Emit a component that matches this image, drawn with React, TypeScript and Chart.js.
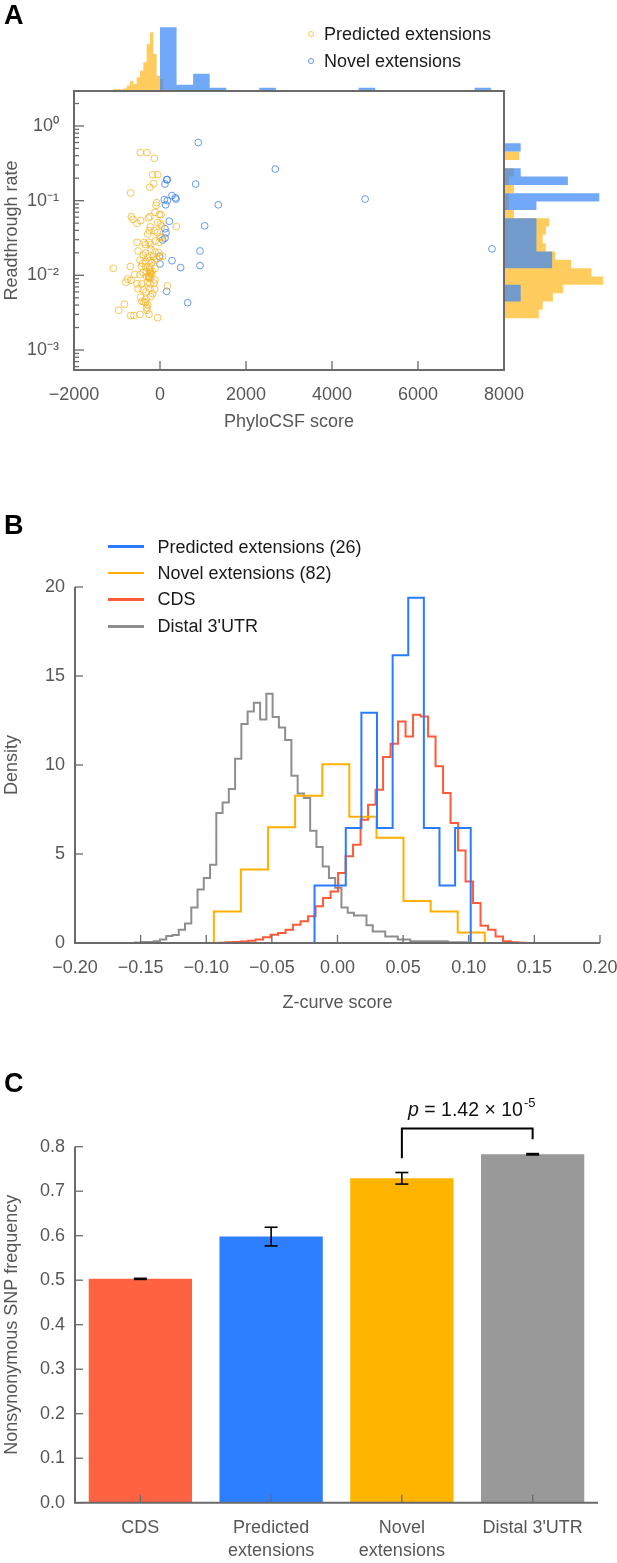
import React, { useEffect, useRef } from "react";
import { Chart, registerables } from "chart.js";

Chart.register(...registerables);

// ================= Panel A data =================
// scatter: PhyloCSF score vs readthrough rate
const PREDICTED_PHYLOCSF = [
  -457, -302, -132, -171, -54, -147, -240, -682, -78, -93, -667, -628, -535, -450, -271, -233, -116, -16, 23, -54,
  8, 39, 380, -225, -248, -132, -62, -287, 0, 31, -535, -372, -256, -109, -341, -217, -23, -512, -341, -209,
  -116, -31, 62, 0, -388, -287, -155, -465, -403, -326, -233, -194, -132, -70, -1085, -690, -434, -333, -233, -116,
  -310, -186, -395, -217, -264, -194, -589, -465, -310, -233, -116, -752, -791, -674, -535, -426, -287, -233, -140, 171,
  -512, -388, -233, -124, -326, -171, -450, -326, -217, -419, -333, -287, -372, -310, -302, -829, -961, -682, -605, -465,
  -256, -54, -250, -240, -260, -225, -245,
];
const PREDICTED_RATE = [
  0.44, 0.44, 0.37, 0.223, 0.223, 0.169, 0.151, 0.127, 0.094, 0.0866, 0.061, 0.056, 0.0497, 0.054, 0.0586, 0.061, 0.0698, 0.065, 0.065, 0.0507,
  0.0487, 0.0458, 0.0449, 0.0445, 0.0397, 0.0397, 0.0373, 0.0358, 0.033, 0.0319, 0.0277, 0.0275, 0.0277, 0.0288, 0.0258, 0.0256, 0.0277, 0.0212, 0.0199, 0.0223,
  0.0205, 0.0201, 0.018, 0.0178, 0.0187, 0.0176, 0.0178, 0.0159, 0.0145, 0.0152, 0.0159, 0.0148, 0.016, 0.0166, 0.0124, 0.0131, 0.0131, 0.0131, 0.0127, 0.0123,
  0.0112, 0.0114, 0.0109, 0.0106, 0.0096, 0.0102, 0.0103, 0.0102, 0.0096, 0.0091, 0.0087, 0.0089, 0.0081, 0.0086, 0.0077, 0.0077, 0.0081, 0.0077, 0.0079, 0.0072,
  0.0066, 0.0064, 0.0066, 0.0065, 0.006, 0.0057, 0.0051, 0.0048, 0.0052, 0.0045, 0.0043, 0.004, 0.0044, 0.0037, 0.0034, 0.0041, 0.0034, 0.0029, 0.0029, 0.003,
  0.003, 0.0027, 0.0098, 0.0104, 0.0093, 0.011, 0.012,
];
const NOVEL_PHYLOCSF = [
  891, 2682, 155, 171, 116, 829, 101, 171, 132, 279, 357, 372, 1356, 217, 1039, 116, 140, 116, 62, 930,
  -16, 279, 0, 480, 930, 155, 643, 4770, 7720,
];
const NOVEL_RATE = [
  0.6, 0.265, 0.191, 0.191, 0.167, 0.167, 0.103, 0.1, 0.088, 0.117, 0.109, 0.105, 0.088, 0.053, 0.046, 0.042, 0.037, 0.0316, 0.0297, 0.0212,
  0.018, 0.0157, 0.0142, 0.0127, 0.0135, 0.0061, 0.0043, 0.105, 0.0226,
];

// marginal histogram on top (PhyloCSF score)
const TOP_PRED_BIN_START = -1085;
const TOP_PRED_BIN_WIDTH = 77.5;
const TOP_PRED_FREQ = [0.27, 0.27, 0.14, 0.4, 1.22, 2.45, 1.63, 3.45, 5.24, 7.5, 12.5, 15.7, 9.8, 3.9, 3.0];
const TOP_NOVEL_BIN_START = 0;
const TOP_NOVEL_BIN_WIDTH = 385;
const TOP_NOVEL_FREQ = [17, 1.45, 4.4, 0.63, 0, 0, 0.63, 0, 0, 0, 0, 0, 0.63, 0, 0, 0, 0, 0, 0, 0.63];

// marginal histogram on the right (readthrough rate, log10 bins from top)
const SIDE_BIN_TOP_LOG10 = -0.2316;
const SIDE_BIN_WIDTH_LOG10 = 0.1115;
const SIDE_PRED_FREQ = [0, 0.9, 0, 0.57, 0.25, 0.57, 0.25, 0.25, 0.57, 2.8, 2.6, 2.4, 2.6, 3.2, 4.2, 5.5, 6.25, 3.7, 3.05, 2.4, 2.15];
const SIDE_NOVEL_FREQ = [1, 0, 0, 1, 4, 0, 6, 2, 0, 2, 2, 2, 2, 3, 3, 0, 0, 1, 1, 0, 0];

const A_X_MIN = -2000;
const A_X_MAX = 8000;
const A_X_STEP = 2000;
const A_Y_MIN = 5.4e-4;
const A_Y_MAX = 2.94;
const LOG_DECADES = [-4, -3, -2, -1, 0];
const LOG_MULTIPLES = [1, 2, 3, 4, 5, 6, 7, 8, 9];

// ================= Panel B data =================
const B_PRED_EDGES = [-0.0175, -0.0056, 0.0063, 0.0182, 0.0301, 0.042, 0.0539, 0.0658, 0.0777, 0.0896, 0.1015];
const B_PRED_DENSITY = [3.23, 3.23, 6.46, 12.93, 6.46, 16.16, 19.39, 6.46, 3.23, 6.46];
const B_NOVEL_EDGES = [-0.0942, -0.0736, -0.0529, -0.0323, -0.0116, 0.009, 0.0297, 0.0503, 0.071, 0.0916, 0.1122];
const B_NOVEL_DENSITY = [1.77, 4.13, 6.5, 8.27, 10.04, 7.09, 5.91, 2.36, 1.77, 0.59];
const B_CDS_BIN_START = -0.091;
const B_CDS_BIN_WIDTH = 0.005714;
const B_CDS_DENSITY = [
  0.02, 0.04, 0.06, 0.09, 0.13, 0.19, 0.32, 0.47, 0.56, 0.75, 1.03, 1.22, 1.5, 2.06, 2.53, 2.9, 3.93, 4.87, 5.52, 6.93,
  7.77, 8.61, 10.45, 11.2, 12.45, 11.6, 12.83, 12.73, 11.6, 9.93, 8.43, 6.74, 5.2, 3.46, 2.25, 0.97, 0.75, 0.37, 0.1, 0.04, 0.02,
];
const B_UTR_BIN_START = -0.1543;
const B_UTR_BIN_WIDTH = 0.004767;
const B_UTR_DENSITY = [
  0.03, 0.05, 0.05, 0.1, 0.2, 0.4, 0.45, 0.75, 1.1, 2.0, 3.0, 3.65, 4.4, 7.3, 7.9, 8.65, 10.35, 12.3, 13.0, 13.5,
  12.55, 14.0, 12.7, 12.1, 11.4, 9.4, 8.4, 8.15, 6.3, 5.4, 4.3, 3.65, 3.1, 2.0, 1.7, 1.55, 1.55, 1.0, 0.65, 0.65,
  0.37, 0.37, 0.19, 0.19, 0.1, 0.1, 0.1, 0.1, 0.1, 0.1, 0.04, 0.04, 0.04,
];
const B_LEGEND = ["Predicted extensions (26)", "Novel extensions (82)", "CDS", "Distal 3'UTR"];

// ================= Panel C data =================
const C_CATEGORIES = [["CDS"], ["Predicted", "extensions"], ["Novel", "extensions"], ["Distal 3'UTR"]];
const C_FREQ = [0.503, 0.598, 0.729, 0.783];
const C_ERR = [0.0012, 0.021, 0.013, 0.0015];
const C_P_TEXT = ["p", " = 1.42 \u00d7 10", "-5"];

// ================= styles =================
const FONT = "'Liberation Sans', Arial, Helvetica, sans-serif";
const TEXT_GREY = "#575757";
const AXIS_LINE = "#6a6a6a";
const PT_YELLOW = "rgba(245,182,40,0.78)";
const PT_BLUE = "rgba(60,130,235,0.8)";
const HIST_YELLOW = "rgba(255,185,30,0.72)";
const HIST_BLUE = "rgba(60,135,245,0.72)";
const B_COLORS = ["#2b7bff", "#ffb000", "#ff5a3a", "#8e8e8e"];
const C_COLORS = ["#ff6240", "#2d7fff", "#ffb400", "#999999"];

const tickFont = { family: FONT, size: 18 };

const SUP: Record<string, string> = {
  "-": "\u207b", "0": "\u2070", "1": "\u00b9", "2": "\u00b2", "3": "\u00b3", "4": "\u2074",
  "5": "\u2075", "6": "\u2076", "7": "\u2077", "8": "\u2078", "9": "\u2079",
};

function isDecade(v: number) {
  const l = Math.log10(v);
  return Math.abs(l - Math.round(l)) < 1e-6;
}
function decadeLabel(v: number) {
  if (!isDecade(v)) return "";
  const e = Math.round(Math.log10(v));
  return "10" + String(e).split("").map((c) => SUP[c]).join("");
}
function minusFmt(v: number, digits: number) {
  if (Math.abs(v) < 1e-9) return (0).toFixed(digits);
  return v < 0 ? "\u2212" + Math.abs(v).toFixed(digits) : v.toFixed(digits);
}
function edgesFrom(start: number, width: number, n: number) {
  const out: number[] = [];
  for (let i = 0; i <= n; i++) out.push(start + i * width);
  return out;
}
function vOutline(edges: number[], vals: number[]) {
  const pts = [{ x: edges[0], y: 0 }];
  vals.forEach((v, i) => {
    pts.push({ x: edges[i], y: v });
    pts.push({ x: edges[i + 1], y: v });
  });
  pts.push({ x: edges[edges.length - 1], y: 0 });
  return pts;
}
function hOutline(edges: number[], vals: number[]) {
  const pts = [{ x: 0, y: edges[0] }];
  vals.forEach((v, i) => {
    pts.push({ x: v, y: edges[i] });
    pts.push({ x: v, y: edges[i + 1] });
  });
  pts.push({ x: 0, y: edges[edges.length - 1] });
  return pts;
}
function line(ctx: CanvasRenderingContext2D, x1: number, y1: number, x2: number, y2: number) {
  ctx.beginPath();
  ctx.moveTo(x1, y1);
  ctx.lineTo(x2, y2);
  ctx.stroke();
}
// fix an axis box size and drop the label-overflow padding so the plot area is exact
function fixBox(dim: "width" | "height", size: number) {
  return (s: any) => {
    s[dim] = size;
    s.paddingTop = 0;
    s.paddingBottom = 0;
    s.paddingLeft = 0;
    s.paddingRight = 0;
  };
}

const baseOptions = {
  responsive: false,
  maintainAspectRatio: false,
  animation: false as const,
  events: [] as any[],
  plugins: { legend: { display: false }, tooltip: { enabled: false } },
};

// ---------- Panel A: scatter ----------
function buildScatter(): any {
  const logTicks: number[] = [];
  LOG_DECADES.forEach((e) =>
    LOG_MULTIPLES.forEach((m) => {
      const v = m * Math.pow(10, e);
      if (v >= A_Y_MIN && v <= A_Y_MAX) logTicks.push(v);
    })
  );
  const frame = {
    id: "frameA",
    afterDraw(chart: any) {
      const { ctx, chartArea: a } = chart;
      const x = chart.scales.x;
      const y = chart.scales.y;
      ctx.save();
      ctx.strokeStyle = AXIS_LINE;
      ctx.lineWidth = 1.3;
      x.ticks.forEach((t: any) => {
        const p = x.getPixelForValue(t.value);
        line(ctx, p, a.bottom, p, a.bottom - 9);
      });
      y.ticks.forEach((t: any) => {
        const p = y.getPixelForValue(t.value);
        line(ctx, a.left, p, a.left + (isDecade(t.value) ? 10 : 5), p);
      });
      ctx.lineWidth = 2;
      ctx.strokeRect(a.left, a.top, a.right - a.left, a.bottom - a.top);
      ctx.restore();
    },
  };
  return {
    type: "scatter",
    data: {
      datasets: [
        {
          label: "Predicted extensions",
          data: PREDICTED_PHYLOCSF.map((x, i) => ({ x, y: PREDICTED_RATE[i] })),
          pointRadius: 3.4,
          pointBorderWidth: 1,
          pointBorderColor: PT_YELLOW,
          pointBackgroundColor: "rgba(0,0,0,0)",
        },
        {
          label: "Novel extensions",
          data: NOVEL_PHYLOCSF.map((x, i) => ({ x, y: NOVEL_RATE[i] })),
          pointRadius: 3.4,
          pointBorderWidth: 1,
          pointBorderColor: PT_BLUE,
          pointBackgroundColor: "rgba(0,0,0,0)",
        },
      ],
    },
    options: {
      ...baseOptions,
      layout: { padding: { top: 11, right: 113, left: 0, bottom: 0 } },
      scales: {
        x: {
          type: "linear",
          min: A_X_MIN,
          max: A_X_MAX,
          afterFit: fixBox("height", 80),
          grid: { display: false, drawTicks: false },
          border: { display: false },
          ticks: {
            stepSize: A_X_STEP,
            padding: 14,
            color: TEXT_GREY,
            font: tickFont,
            maxRotation: 0,
            callback: (v: any) => minusFmt(Number(v), 0),
          },
          title: { display: true, text: "PhyloCSF score", color: TEXT_GREY, font: tickFont, padding: { top: 0, bottom: 17 } },
        },
        y: {
          type: "logarithmic",
          min: A_Y_MIN,
          max: A_Y_MAX,
          afterFit: fixBox("width", 74),
          afterBuildTicks: (s: any) => { s.ticks = logTicks.map((v) => ({ value: v })); },
          grid: { display: false, drawTicks: false },
          border: { display: false },
          ticks: { autoSkip: false, padding: 15, color: TEXT_GREY, font: tickFont, callback: (v: any) => decadeLabel(Number(v)) },
          title: { display: true, text: "Readthrough rate", color: TEXT_GREY, font: tickFont, padding: { top: 1, bottom: 0 } },
        },
      },
    },
    plugins: [frame],
  };
}

function buildTopHist(): any {
  const predEdges = edgesFrom(TOP_PRED_BIN_START, TOP_PRED_BIN_WIDTH, TOP_PRED_FREQ.length);
  const novelEdges = edgesFrom(TOP_NOVEL_BIN_START, TOP_NOVEL_BIN_WIDTH, TOP_NOVEL_FREQ.length);
  return {
    type: "scatter",
    data: {
      datasets: [
        { data: vOutline(novelEdges, TOP_NOVEL_FREQ), showLine: true, fill: "shape", backgroundColor: HIST_BLUE, borderWidth: 0, pointRadius: 0 },
        { data: vOutline(predEdges, TOP_PRED_FREQ), showLine: true, fill: "shape", backgroundColor: HIST_YELLOW, borderWidth: 0, pointRadius: 0 },
      ],
    },
    options: {
      ...baseOptions,
      layout: { padding: { top: 20, right: 113, left: 74, bottom: 1 } },
      scales: {
        x: { type: "linear", display: false, min: A_X_MIN, max: A_X_MAX },
        y: { type: "linear", display: false, min: 0, max: 19 },
      },
    },
  };
}

function buildSideHist(): any {
  const edges: number[] = [];
  for (let k = 0; k <= SIDE_NOVEL_FREQ.length; k++) edges.push(Math.pow(10, SIDE_BIN_TOP_LOG10 - k * SIDE_BIN_WIDTH_LOG10));
  return {
    type: "scatter",
    data: {
      datasets: [
        { data: hOutline(edges, SIDE_NOVEL_FREQ), showLine: true, fill: "shape", backgroundColor: HIST_BLUE, borderWidth: 0, pointRadius: 0 },
        { data: hOutline(edges, SIDE_PRED_FREQ), showLine: true, fill: "shape", backgroundColor: HIST_YELLOW, borderWidth: 0, pointRadius: 0 },
      ],
    },
    options: {
      ...baseOptions,
      layout: { padding: { top: 11, right: 2, left: 505, bottom: 80 } },
      scales: {
        x: { type: "linear", display: false, min: 0, max: 7 },
        y: { type: "logarithmic", display: false, min: A_Y_MIN, max: A_Y_MAX },
      },
    },
  };
}

// ---------- shared L-shaped axes with inward ticks ----------
function lAxes(tickLen: number) {
  return {
    id: "lAxes",
    afterDraw(chart: any) {
      const { ctx, chartArea: a } = chart;
      const x = chart.scales.x;
      const y = chart.scales.y;
      ctx.save();
      ctx.strokeStyle = AXIS_LINE;
      ctx.lineWidth = 1.3;
      x.ticks.forEach((_t: any, i: number) => {
        const p = x.getPixelForTick(i);
        line(ctx, p, a.bottom, p, a.bottom - tickLen);
      });
      y.ticks.forEach((_t: any, i: number) => {
        const p = y.getPixelForTick(i);
        line(ctx, a.left, p, a.left + tickLen, p);
      });
      ctx.lineWidth = 2;
      ctx.beginPath();
      ctx.moveTo(a.left, a.top);
      ctx.lineTo(a.left, a.bottom);
      ctx.lineTo(a.right, a.bottom);
      ctx.stroke();
      ctx.restore();
    },
  };
}

// ---------- Panel B ----------
function buildDensity(): any {
  const series = [
    vOutline(B_PRED_EDGES, B_PRED_DENSITY),
    vOutline(B_NOVEL_EDGES, B_NOVEL_DENSITY),
    vOutline(edgesFrom(B_CDS_BIN_START, B_CDS_BIN_WIDTH, B_CDS_DENSITY.length), B_CDS_DENSITY),
    vOutline(edgesFrom(B_UTR_BIN_START, B_UTR_BIN_WIDTH, B_UTR_DENSITY.length), B_UTR_DENSITY),
  ];
  return {
    type: "scatter",
    data: {
      datasets: series.map((d, i) => ({
        label: B_LEGEND[i],
        data: d,
        showLine: true,
        fill: false,
        borderColor: B_COLORS[i],
        borderWidth: 2,
        pointRadius: 0,
      })),
    },
    options: {
      ...baseOptions,
      layout: { padding: { top: 17, right: 17, left: 0, bottom: 0 } },
      scales: {
        x: {
          type: "linear",
          min: -0.2,
          max: 0.2,
          afterFit: fixBox("height", 77),
          grid: { display: false, drawTicks: false },
          border: { display: false },
          ticks: { stepSize: 0.05, padding: 14, color: TEXT_GREY, font: tickFont, maxRotation: 0, autoSkip: false, callback: (v: any) => minusFmt(Number(v), 2) },
          title: { display: true, text: "Z-curve score", color: TEXT_GREY, font: tickFont, padding: { top: 0, bottom: 6 } },
        },
        y: {
          type: "linear",
          min: 0,
          max: 20,
          afterFit: fixBox("width", 75),
          grid: { display: false, drawTicks: false },
          border: { display: false },
          ticks: { stepSize: 5, padding: 10, color: TEXT_GREY, font: tickFont },
          title: { display: true, text: "Density", color: TEXT_GREY, font: tickFont, padding: { top: 1, bottom: 0 } },
        },
      },
    },
    plugins: [lAxes(8)],
  };
}

// ---------- Panel C ----------
function buildBars(): any {
  const extras = {
    id: "extrasC",
    afterDraw(chart: any) {
      const { ctx } = chart;
      const x = chart.scales.x;
      const y = chart.scales.y;
      ctx.save();
      ctx.strokeStyle = "#000";
      ctx.lineWidth = 1.6;
      C_FREQ.forEach((v, i) => {
        const cx = x.getPixelForValue(i);
        const top = y.getPixelForValue(v + C_ERR[i]);
        const bot = y.getPixelForValue(v - C_ERR[i]);
        line(ctx, cx, top, cx, bot);
        line(ctx, cx - 6.5, top, cx + 6.5, top);
        line(ctx, cx - 6.5, bot, cx + 6.5, bot);
      });
      // significance bracket between Novel and Distal
      const xl = x.getPixelForValue(2);
      const xr = x.getPixelForValue(3);
      const yTop = y.getPixelForValue(0.841);
      ctx.lineWidth = 2;
      ctx.beginPath();
      ctx.moveTo(xl, y.getPixelForValue(0.774));
      ctx.lineTo(xl, yTop);
      ctx.lineTo(xr, yTop);
      ctx.lineTo(xr, y.getPixelForValue(0.817));
      ctx.stroke();
      // p-value text
      const fItal = `italic 19.5px ${FONT}`;
      const fMain = `19.5px ${FONT}`;
      const fSup = `13px ${FONT}`;
      ctx.font = fItal;
      const w0 = ctx.measureText(C_P_TEXT[0]).width;
      ctx.font = fMain;
      const w1 = ctx.measureText(C_P_TEXT[1]).width;
      ctx.font = fSup;
      const w2 = ctx.measureText(C_P_TEXT[2]).width;
      const cx = (xl + xr) / 2 + 4;
      let sx = cx - (w0 + w1 + w2) / 2;
      const base = y.getPixelForValue(0.87);
      ctx.fillStyle = "#111";
      ctx.textAlign = "left";
      ctx.textBaseline = "alphabetic";
      ctx.font = fItal;
      ctx.fillText(C_P_TEXT[0], sx, base);
      sx += w0;
      ctx.font = fMain;
      ctx.fillText(C_P_TEXT[1], sx, base);
      sx += w1;
      ctx.font = fSup;
      ctx.fillText(C_P_TEXT[2], sx + 1, base - 9);
      ctx.restore();
    },
  };
  return {
    type: "bar",
    data: {
      labels: C_CATEGORIES,
      datasets: [
        {
          label: "Nonsynonymous SNP frequency",
          data: C_FREQ,
          backgroundColor: C_COLORS,
          borderWidth: 0,
          barPercentage: 0.79,
          categoryPercentage: 1,
        },
      ],
    },
    options: {
      ...baseOptions,
      layout: { padding: { top: 56.7, right: 19, left: 0, bottom: 0 } },
      scales: {
        x: {
          afterFit: fixBox("height", 60.3),
          grid: { display: false, drawTicks: false },
          border: { display: false },
          ticks: { padding: 14, color: TEXT_GREY, font: { family: FONT, size: 18, lineHeight: 1.28 }, maxRotation: 0 },
        },
        y: {
          type: "linear",
          min: 0,
          max: 0.8,
          afterFit: fixBox("width", 75),
          grid: { display: false, drawTicks: false },
          border: { display: false },
          ticks: { stepSize: 0.1, padding: 10, color: TEXT_GREY, font: tickFont, callback: (v: any) => Number(v).toFixed(1) },
          title: { display: true, text: "Nonsynonymous SNP frequency", color: TEXT_GREY, font: tickFont, padding: { top: 1, bottom: 0 } },
        },
      },
    },
    plugins: [lAxes(8), extras],
  };
}

function ChartCanvas(props: { left: number; top: number; width: number; height: number; build: () => any }) {
  const ref = useRef<HTMLCanvasElement>(null);
  useEffect(() => {
    const chart = new Chart(ref.current as HTMLCanvasElement, props.build());
    return () => chart.destroy();
  }, []);
  return (
    <canvas
      ref={ref}
      width={props.width}
      height={props.height}
      style={{ position: "absolute", left: props.left, top: props.top, width: props.width, height: props.height }}
    />
  );
}

const abs = (left: number, top: number, extra: React.CSSProperties = {}): React.CSSProperties => ({
  position: "absolute",
  left,
  top,
  ...extra,
});

const letterStyle: React.CSSProperties = { fontFamily: FONT, fontWeight: "bold", fontSize: 27, lineHeight: "27px", color: "#000" };
const legendText: React.CSSProperties = { fontFamily: FONT, fontSize: 18, lineHeight: "20px", color: "#1a1a1a", whiteSpace: "nowrap" };

export default function App() {
  const aLegend = [
    { label: "Predicted extensions", color: PT_YELLOW, y: 34.3 },
    { label: "Novel extensions", color: PT_BLUE, y: 61 },
  ];
  const bLegendY = [546.7, 573, 599.3, 626.3];
  return (
    <div style={{ position: "absolute", left: 0, top: 0, width: 617, height: 1563, background: "#fff", overflow: "hidden" }}>
      {/* Panel A */}
      <ChartCanvas left={0} top={80} width={617} height={370} build={buildScatter} />
      <ChartCanvas left={0} top={0} width={617} height={91} build={buildTopHist} />
      <ChartCanvas left={0} top={80} width={617} height={370} build={buildSideHist} />
      <div style={abs(4, 2, letterStyle)}>A</div>
      {aLegend.map((l) => (
        <React.Fragment key={l.label}>
          <div
            style={abs(311 - 3, l.y - 3, {
              width: 4,
              height: 4,
              borderRadius: "50%",
              border: `1px solid ${l.color}`,
            })}
          />
          <div style={abs(324, l.y - 10, legendText)}>{l.label}</div>
        </React.Fragment>
      ))}

      {/* Panel B */}
      <ChartCanvas left={0} top={570} width={617} height={450} build={buildDensity} />
      <div style={abs(4, 512, letterStyle)}>B</div>
      {B_LEGEND.map((t, i) => (
        <React.Fragment key={t}>
          <div style={abs(108, bLegendY[i] - 1.25, { width: 36, height: 2.5, background: B_COLORS[i] })} />
          <div style={abs(157.5, bLegendY[i] - 10, legendText)}>{t}</div>
        </React.Fragment>
      ))}

      {/* Panel C */}
      <ChartCanvas left={0} top={1090} width={617} height={473} build={buildBars} />
      <div style={abs(4, 1070, letterStyle)}>C</div>
    </div>
  );
}
